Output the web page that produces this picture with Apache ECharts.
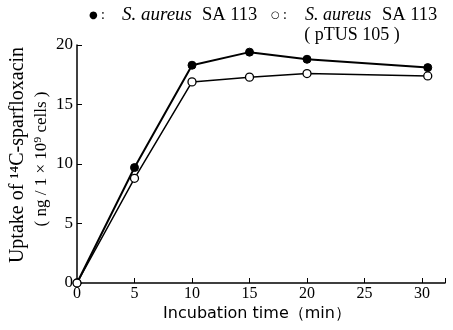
<!DOCTYPE html>
<html><head><meta charset="utf-8">
<script src="https://cdn.jsdelivr.net/npm/echarts@6/dist/echarts.min.js"></script>
<style>html,body{margin:0;padding:0;background:#fff}#c{width:453px;height:330px}</style>
</head><body><div id="c"></div>
<script>
const timesFilled = [0, 5, 10, 15, 20, 30.5];
const uptakeFilled = [0, 9.7, 18.3, 19.4, 18.8, 18.1];
const timesOpen = [0, 5, 10, 15, 20, 30.5];
const uptakeOpen = [0, 8.8, 16.9, 17.3, 17.6, 17.4];
const xTicks = [0, 5, 10, 15, 20, 25, 30];
const yTicks = [0, 5, 10, 15, 20];

const serif = '"Liberation Serif", "DejaVu Serif", serif';
const chart = echarts.init(document.getElementById('c'));
chart.setOption({
  animation: false,
  grid: {left: 77, right: 8, top: 45, bottom: 47},
  xAxis: {
    type: 'value', min: 0, max: 32, interval: 5,
    axisLine: {onZero: false, lineStyle: {color: '#000', width: 1.5}},
    axisTick: {inside: true, length: 5, lineStyle: {color: '#000'}},
    splitLine: {show: false},
    axisLabel: {color: '#000', fontFamily: serif, fontSize: 16, margin: 3,
      formatter: v => xTicks.includes(v) ? String(v) : ''}
  },
  yAxis: {
    type: 'value', min: 0, max: 20, interval: 5,
    axisLine: {lineStyle: {color: '#000', width: 1.5}},
    axisTick: {inside: true, length: 5, lineStyle: {color: '#000'}},
    splitLine: {show: false},
    axisLabel: {color: '#000', fontFamily: serif, fontSize: 17, margin: 4,
      formatter: v => yTicks.includes(v) ? String(v) : ''}
  },
  graphic: [
    {type: 'text', x: 18, y: 155, rotation: Math.PI/2, style: {
      text: 'Uptake of ¹⁴C-sparfloxacin', font: '20px "Liberation Serif", serif', fill: '#000',
      align: 'center', verticalAlign: 'middle'}},
    {type: 'text', x: 42, y: 159, rotation: Math.PI/2, style: {
      text: '( ng / 1 × 10⁹ cells )', font: '17px "Liberation Serif", serif', fill: '#000',
      align: 'center', verticalAlign: 'middle'}},
    {type: 'text', x: 257, y: 314, style: {
      text: 'Incubation time（min）', font: '16px "DejaVu Sans", sans-serif', fill: '#000',
      align: 'center', verticalAlign: 'middle'}},
    {type: 'text', x: 89, y: 15, style: {text: '●', font: '10px "DejaVu Sans", sans-serif', fill: '#000', verticalAlign: 'middle'}},
    {type: 'text', x: 101, y: 15, style: {text: ':', font: '14px "Liberation Serif", serif', fill: '#000', verticalAlign: 'middle'}},
    {type: 'text', x: 122, y: 15, style: {text: 'S. aureus', font: 'italic 19px "Liberation Serif", serif', fill: '#000', verticalAlign: 'middle'}},
    {type: 'text', x: 202, y: 15, style: {text: 'SA 113', font: '18.5px "Liberation Serif", serif', fill: '#000', verticalAlign: 'middle'}},
    {type: 'text', x: 271, y: 15, style: {text: '○', font: '10px "DejaVu Sans", sans-serif', fill: '#000', verticalAlign: 'middle'}},
    {type: 'text', x: 283, y: 15, style: {text: ':', font: '14px "Liberation Serif", serif', fill: '#000', verticalAlign: 'middle'}},
    {type: 'text', x: 305, y: 15, style: {text: 'S. aureus', font: 'italic 18px "Liberation Serif", serif', fill: '#000', verticalAlign: 'middle'}},
    {type: 'text', x: 382, y: 15, style: {text: 'SA 113', font: '18.5px "Liberation Serif", serif', fill: '#000', verticalAlign: 'middle'}},
    {type: 'text', x: 352, y: 35, style: {text: '( pTUS 105 )', font: '18px "Liberation Serif", serif', fill: '#000', align: 'center', verticalAlign: 'middle'}}
  ],
  series: [
    {type: 'line', data: timesFilled.map((t, i) => [t, uptakeFilled[i]]),
      symbol: 'circle', symbolSize: 8, lineStyle: {color: '#000', width: 2},
      itemStyle: {color: '#000', borderColor: '#000'},
      z: 3},
    {type: 'line', data: timesOpen.map((t, i) => [t, uptakeOpen[i]]),
      symbol: 'circle', symbolSize: 8, lineStyle: {color: '#000', width: 1.5},
      itemStyle: {color: '#fff', borderColor: '#000', borderWidth: 1.3},
      z: 4}
  ]
});
</script></body></html>
